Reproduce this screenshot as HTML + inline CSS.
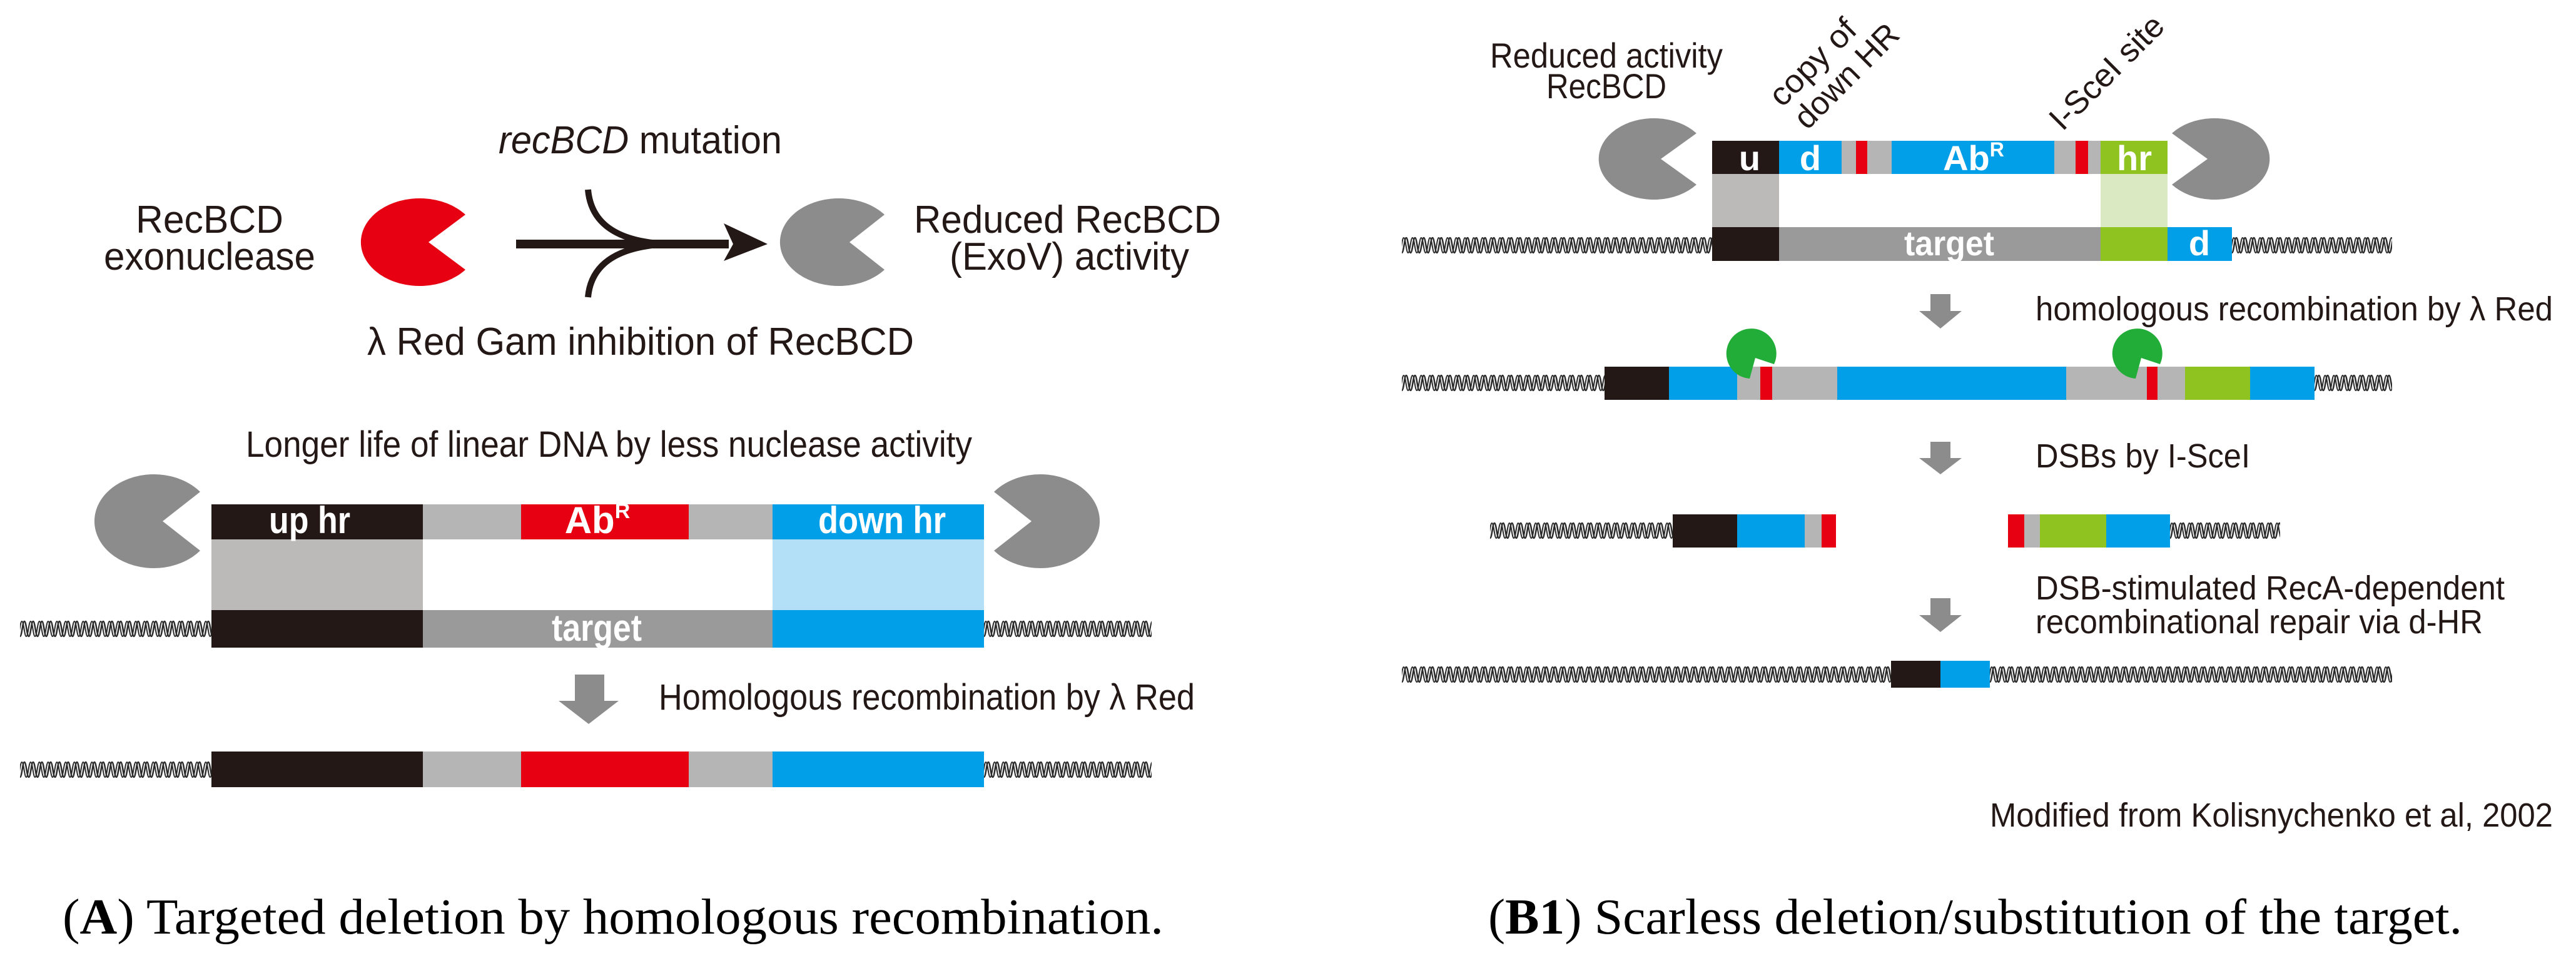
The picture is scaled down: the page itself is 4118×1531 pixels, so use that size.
<!DOCTYPE html>
<html><head><meta charset="utf-8"><style>
html,body{margin:0;padding:0;background:#fff;}
svg{display:block;}
text{font-family:"Liberation Sans",sans-serif;}
.s{font-family:"Liberation Serif",serif;}
</style></head><body>
<svg width="4118" height="1531" viewBox="0 0 4118 1531" xmlns="http://www.w3.org/2000/svg">
<defs>
<pattern id="w" patternUnits="userSpaceOnUse" width="28" height="40" x="0" y="0">
<path d="M0,32 C3,32 4,8 7,8 C10,8 11,32 14,32 C17,32 18,8 21,8 C24,8 25,32 28,32" fill="none" stroke="#2a2a2a" stroke-width="2.5"/>
<path d="M-4,32 C-1,32 0,8 3,8 C6,8 7,32 10,32 C13,32 14,8 17,8 C20,8 21,32 24,32 C27,32 28,8 31,8" fill="none" stroke="#2a2a2a" stroke-width="2"/>
</pattern>
</defs>

<!-- ===== Panel A ===== -->
<text x="797" y="245" font-size="62" textLength="453" lengthAdjust="spacingAndGlyphs" fill="#231815"><tspan font-style="italic">recBCD</tspan> mutation</text>
<text x="217" y="372" font-size="62" textLength="236" lengthAdjust="spacingAndGlyphs" fill="#231815">RecBCD</text>
<text x="166" y="431" font-size="62" textLength="338" lengthAdjust="spacingAndGlyphs" fill="#231815">exonuclease</text>
<text x="1461" y="372" font-size="62" textLength="491" lengthAdjust="spacingAndGlyphs" fill="#231815">Reduced RecBCD</text>
<text x="1518" y="431" font-size="62" textLength="383" lengthAdjust="spacingAndGlyphs" fill="#231815">(ExoV) activity</text>
<text x="587" y="567" font-size="62" textLength="874" lengthAdjust="spacingAndGlyphs" fill="#231815">λ Red Gam inhibition of RecBCD</text>

<path d="M685,387 L744,343 A94 70 0 1 0 744,431 Z" fill="#e60012"/>
<path d="M1358,387 L1414,343 A94 70 0 1 0 1414,431 Z" fill="#8c8c8c"/>
<rect x="825" y="383" width="340" height="14" fill="#231815"/>
<polygon points="1157,357 1227,390 1157,417 1172,390" fill="#231815"/>
<path d="M940,303 C945,360 990,386 1065,390" fill="none" stroke="#231815" stroke-width="10"/>
<path d="M940,475 C945,420 990,394 1065,390" fill="none" stroke="#231815" stroke-width="10"/>

<text x="393" y="730" font-size="58" textLength="1161" lengthAdjust="spacingAndGlyphs" fill="#231815">Longer life of linear DNA by less nuclease activity</text>

<rect x="338" y="806" width="338" height="56" fill="#231815"/>
<rect x="676" y="806" width="157" height="56" fill="#b5b5b5"/>
<rect x="833" y="806" width="268" height="56" fill="#e60012"/>
<rect x="1101" y="806" width="134" height="56" fill="#b5b5b5"/>
<rect x="1235" y="806" width="338" height="56" fill="#009fe8"/>
<rect x="338" y="862" width="338" height="113" fill="#bcb9b9"/>
<rect x="1235" y="862" width="338" height="113" fill="#b3e0f6"/>
<text x="495" y="852" font-size="60" font-weight="bold" fill="#fff" text-anchor="middle" textLength="130" lengthAdjust="spacingAndGlyphs">up hr</text>
<text x="955" y="852" font-size="60" font-weight="bold" fill="#fff" text-anchor="middle">Ab<tspan font-size="34" dy="-24">R</tspan></text>
<text x="1410" y="852" font-size="60" font-weight="bold" fill="#fff" text-anchor="middle" textLength="204" lengthAdjust="spacingAndGlyphs">down hr</text>
<g transform="translate(32,985)"><rect width="306" height="40" fill="url(#w)"/></g>
<g transform="translate(1573,985)"><rect width="268" height="40" fill="url(#w)"/></g>
<rect x="338" y="975" width="338" height="60" fill="#231815"/>
<rect x="676" y="975" width="559" height="60" fill="#9a9a9a"/>
<rect x="1235" y="975" width="338" height="60" fill="#009fe8"/>
<text x="954" y="1024" font-size="60" font-weight="bold" fill="#fff" text-anchor="middle" textLength="144" lengthAdjust="spacingAndGlyphs">target</text>
<path d="M260,833 L320,786 A95 75 0 1 0 320,880 Z" fill="#8c8c8c"/>
<path d="M1649,833 L1589,786 A95 75 0 1 1 1589,880 Z" fill="#8c8c8c"/>

<polygon points="919,1078 966,1078 966,1120 989,1120 941,1157 893,1120 919,1120" fill="#8c8c8c"/>
<text x="1053" y="1134" font-size="58" textLength="857" lengthAdjust="spacingAndGlyphs" fill="#231815">Homologous recombination by λ Red</text>

<g transform="translate(32,1210)"><rect width="306" height="40" fill="url(#w)"/></g>
<g transform="translate(1573,1210)"><rect width="268" height="40" fill="url(#w)"/></g>
<rect x="338" y="1201" width="338" height="57" fill="#231815"/>
<rect x="676" y="1201" width="157" height="57" fill="#b5b5b5"/>
<rect x="833" y="1201" width="268" height="57" fill="#e60012"/>
<rect x="1101" y="1201" width="134" height="57" fill="#b5b5b5"/>
<rect x="1235" y="1201" width="338" height="57" fill="#009fe8"/>

<text class="s" x="100" y="1492" font-size="80" textLength="1760" lengthAdjust="spacingAndGlyphs" fill="#000">(<tspan font-weight="bold">A</tspan>) Targeted deletion by homologous recombination.</text>

<!-- ===== Panel B ===== -->
<text x="2382" y="108" font-size="56" textLength="372" lengthAdjust="spacingAndGlyphs" fill="#231815">Reduced activity</text>
<text x="2472" y="157" font-size="56" textLength="192" lengthAdjust="spacingAndGlyphs" fill="#231815">RecBCD</text>
<text transform="translate(2849,173) rotate(-45)" font-size="52" textLength="173" lengthAdjust="spacingAndGlyphs" fill="#231815">copy of</text>
<text transform="translate(2889,209) rotate(-45)" font-size="52" textLength="213" lengthAdjust="spacingAndGlyphs" fill="#231815">down HR</text>
<text transform="translate(3297,211) rotate(-45)" font-size="52" textLength="235" lengthAdjust="spacingAndGlyphs" fill="#231815">I-SceI site</text>

<path d="M2655,254 L2712,213 A88 65 0 1 0 2712,295 Z" fill="#8c8c8c"/>
<path d="M3529,254 L3472,213 A88 65 0 1 1 3472,295 Z" fill="#8c8c8c"/>

<rect x="2737" y="225" width="107" height="53" fill="#231815"/>
<rect x="2844" y="225" width="100" height="53" fill="#009fe8"/>
<rect x="2944" y="225" width="23" height="53" fill="#b5b5b5"/>
<rect x="2967" y="225" width="18" height="53" fill="#e60012"/>
<rect x="2985" y="225" width="39" height="53" fill="#b5b5b5"/>
<rect x="3024" y="225" width="260" height="53" fill="#009fe8"/>
<rect x="3284" y="225" width="34" height="53" fill="#b5b5b5"/>
<rect x="3318" y="225" width="20" height="53" fill="#e60012"/>
<rect x="3338" y="225" width="20" height="53" fill="#b5b5b5"/>
<rect x="3358" y="225" width="107" height="53" fill="#8fc31f"/>
<rect x="2737" y="278" width="107" height="85" fill="#bcb9b9"/>
<rect x="3358" y="278" width="107" height="85" fill="#dbe9c2"/>
<text x="2797" y="272" font-size="56" font-weight="bold" fill="#fff" text-anchor="middle">u</text>
<text x="2894" y="272" font-size="56" font-weight="bold" fill="#fff" text-anchor="middle">d</text>
<text x="3155" y="272" font-size="56" font-weight="bold" fill="#fff" text-anchor="middle">Ab<tspan font-size="32" dy="-22">R</tspan></text>
<text x="3412" y="272" font-size="56" font-weight="bold" fill="#fff" text-anchor="middle">hr</text>

<g transform="translate(2241,372)"><rect width="496" height="40" fill="url(#w)"/></g>
<g transform="translate(3568,372)"><rect width="256" height="40" fill="url(#w)"/></g>
<rect x="2737" y="363" width="107" height="54" fill="#231815"/>
<rect x="2844" y="363" width="514" height="54" fill="#9a9a9a"/>
<rect x="3358" y="363" width="107" height="54" fill="#8fc31f"/>
<rect x="3465" y="363" width="103" height="54" fill="#009fe8"/>
<text x="3116" y="408" font-size="56" font-weight="bold" fill="#fff" text-anchor="middle" textLength="144" lengthAdjust="spacingAndGlyphs">target</text>
<text x="3516" y="408" font-size="56" font-weight="bold" fill="#fff" text-anchor="middle">d</text>

<polygon points="3086,470 3118,470 3118,497 3136,497 3102,525 3068,497 3086,497" fill="#8c8c8c"/>
<text x="3254" y="512" font-size="54" textLength="827" lengthAdjust="spacingAndGlyphs" fill="#231815">homologous recombination by λ Red</text>

<g transform="translate(2241,592)"><rect width="324" height="40" fill="url(#w)"/></g>
<g transform="translate(3700,592)"><rect width="124" height="40" fill="url(#w)"/></g>
<rect x="2565" y="586" width="103" height="53" fill="#231815"/>
<rect x="2668" y="586" width="109" height="53" fill="#009fe8"/>
<rect x="2777" y="586" width="37" height="53" fill="#b5b5b5"/>
<rect x="2814" y="586" width="19" height="53" fill="#e60012"/>
<rect x="2833" y="586" width="104" height="53" fill="#b5b5b5"/>
<rect x="2937" y="586" width="366" height="53" fill="#009fe8"/>
<rect x="3303" y="586" width="129" height="53" fill="#b5b5b5"/>
<rect x="3432" y="586" width="17" height="53" fill="#e60012"/>
<rect x="3449" y="586" width="44" height="53" fill="#b5b5b5"/>
<rect x="3493" y="586" width="104" height="53" fill="#8fc31f"/>
<rect x="3597" y="586" width="103" height="53" fill="#009fe8"/>
<path d="M2806,572 L2797,605 A40 40 0 1 1 2836,582 Z" fill="#22ac38"/>
<path d="M3423,572 L3414,605 A40 40 0 1 1 3453,582 Z" fill="#22ac38"/>

<polygon points="3086,706 3118,706 3118,732 3136,732 3102,758 3068,732 3086,732" fill="#8c8c8c"/>
<text x="3254" y="747" font-size="54" textLength="343" lengthAdjust="spacingAndGlyphs" fill="#231815">DSBs by I-SceI</text>

<g transform="translate(2382,828)"><rect width="292" height="40" fill="url(#w)"/></g>
<g transform="translate(3469,828)"><rect width="176" height="40" fill="url(#w)"/></g>
<rect x="2674" y="822" width="103" height="53" fill="#231815"/>
<rect x="2777" y="822" width="108" height="53" fill="#009fe8"/>
<rect x="2885" y="822" width="27" height="53" fill="#b5b5b5"/>
<rect x="2912" y="822" width="23" height="53" fill="#e60012"/>
<rect x="3210" y="822" width="26" height="53" fill="#e60012"/>
<rect x="3236" y="822" width="25" height="53" fill="#b5b5b5"/>
<rect x="3261" y="822" width="106" height="53" fill="#8fc31f"/>
<rect x="3367" y="822" width="102" height="53" fill="#009fe8"/>

<polygon points="3086,956 3118,956 3118,983 3136,983 3102,1010 3068,983 3086,983" fill="#8c8c8c"/>
<text x="3254" y="958" font-size="54" textLength="750" lengthAdjust="spacingAndGlyphs" fill="#231815">DSB-stimulated RecA-dependent</text>
<text x="3254" y="1012" font-size="54" textLength="715" lengthAdjust="spacingAndGlyphs" fill="#231815">recombinational repair via d-HR</text>

<g transform="translate(2241,1058)"><rect width="782" height="40" fill="url(#w)"/></g>
<g transform="translate(3181,1058)"><rect width="643" height="40" fill="url(#w)"/></g>
<rect x="3023" y="1056" width="79" height="43" fill="#231815"/>
<rect x="3102" y="1056" width="79" height="43" fill="#009fe8"/>

<text x="3181" y="1321" font-size="54" textLength="900" lengthAdjust="spacingAndGlyphs" fill="#231815">Modified from Kolisnychenko et al, 2002</text>

<text class="s" x="2379" y="1492" font-size="80" textLength="1557" lengthAdjust="spacingAndGlyphs" fill="#000">(<tspan font-weight="bold">B1</tspan>) Scarless deletion/substitution of the target.</text>
</svg>
</body></html>
